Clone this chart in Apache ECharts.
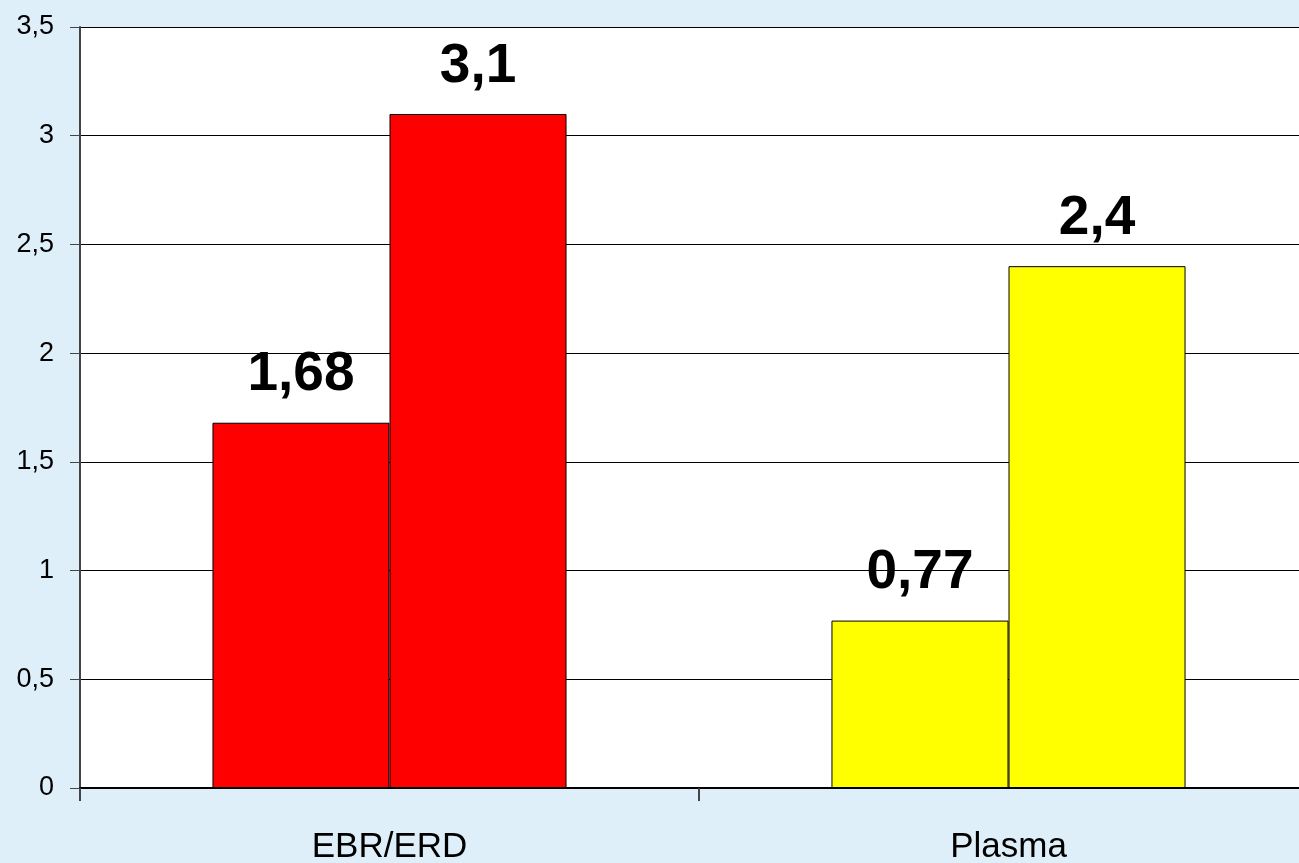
<!DOCTYPE html>
<html>
<head>
<meta charset="utf-8">
<script src="https://cdn.jsdelivr.net/npm/echarts@6/dist/echarts.min.js"></script>
<style>
  html, body { margin: 0; padding: 0; background: #dfeffa; }
  #chart { width: 1299px; height: 863px; }
</style>
</head>
<body>
<div id="chart"></div>
<script>
const categories = ['EBR/ERD', 'Plasma']
const firstValues = [1.68, 0.77]
const secondValues = [3.1, 2.4]
const categoryColors = ['#ff0000', '#ffff00']
const yTicks = { min: 0, max: 3.5, interval: 0.5 }

const chart = echarts.init(document.getElementById('chart'))

const comma = v => String(v).replace('.', ',')

function withColors(values) {
  return values.map((v, i) => ({ value: v, itemStyle: { color: categoryColors[i] } }))
}

const valueLabel = {
  show: true,
  position: 'top',
  distance: 20,
  fontFamily: 'Liberation Sans, Arial, sans-serif',
  fontWeight: 'bold',
  fontSize: 55,
  color: '#000',
  formatter: p => comma(p.value)
}

chart.setOption({
  backgroundColor: '#dfeffa',
  animation: false,
  grid: {
    left: 80, top: 27, width: 1238, bottom: 75,
    outerBoundsMode: 'none', containLabel: false,
    backgroundColor: '#fff', show: true, borderWidth: 0
  },
  xAxis: {
    type: 'category',
    data: categories,
    axisLine: { lineStyle: { color: '#000', width: 2 } },
    axisTick: { show: true, length: 13, lineStyle: { color: '#444', width: 2 } },
    axisLabel: {
      margin: 42,
      fontFamily: 'Liberation Sans, Arial, sans-serif',
      fontSize: 35,
      color: '#000'
    }
  },
  yAxis: {
    type: 'value',
    min: yTicks.min,
    max: yTicks.max,
    interval: yTicks.interval,
    axisLine: { show: true, lineStyle: { color: '#444', width: 2 } },
    axisTick: { show: true, length: 10, lineStyle: { color: '#444', width: 1 } },
    splitLine: { lineStyle: { color: '#000', width: 1 } },
    axisLabel: {
      margin: 26,
      fontFamily: 'Liberation Sans, Arial, sans-serif',
      fontSize: 27,
      color: '#000',
      formatter: v => comma(v)
    }
  },
  series: [
    {
      type: 'bar',
      data: withColors(firstValues),
      barGap: '0%',
      barCategoryGap: '42.8%',
      itemStyle: { borderColor: '#000', borderWidth: 1 },
      label: valueLabel
    },
    {
      type: 'bar',
      data: withColors(secondValues),
      itemStyle: { borderColor: '#000', borderWidth: 1 },
      label: valueLabel
    }
  ]
})
</script>
</body>
</html>
